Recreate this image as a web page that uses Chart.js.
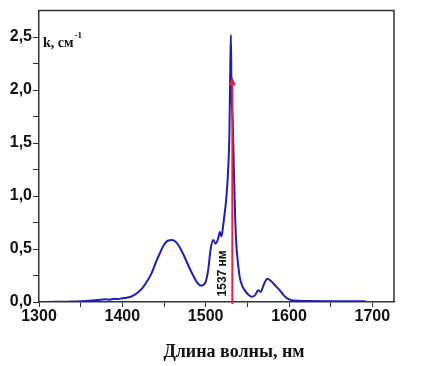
<!DOCTYPE html>
<html>
<head>
<meta charset="utf-8">
<script src="https://cdn.jsdelivr.net/npm/chart.js@4/dist/chart.umd.min.js"></script>
<style>
  html, body { margin: 0; padding: 0; background: #fff; }
  #wrap { width: 438px; height: 366px; }
</style>
</head>
<body>
<div id="wrap"><canvas id="chart" width="438" height="366"></canvas></div>
<script>
// wavelength (nm)
const wavelength = [1300, 1320, 1340, 1350, 1360, 1370, 1380, 1385, 1390, 1395, 1400, 1405, 1410, 1415,
    1420, 1425, 1430, 1435, 1440, 1445, 1450, 1455, 1460, 1465, 1470, 1475, 1480, 1485, 1490, 1494,
    1497, 1500, 1503, 1506, 1509, 1512, 1515, 1517, 1519, 1521, 1523, 1525, 1527, 1528.5, 1529.5,
    1530.3, 1531, 1532.5, 1534, 1535.5, 1537, 1539, 1541, 1544, 1547, 1551, 1555, 1559, 1563, 1566,
    1570, 1574, 1578, 1583, 1589, 1594, 1599, 1605, 1620, 1650, 1670, 1692];
// absorption coefficient k (cm^-1)
const kValues = [0.0, 0.002, 0.005, 0.008, 0.012, 0.018, 0.025, 0.022, 0.03, 0.028, 0.035, 0.04, 0.05, 0.07,
    0.1, 0.14, 0.2, 0.27, 0.37, 0.46, 0.54, 0.58, 0.585, 0.56, 0.5, 0.42, 0.33, 0.25, 0.18, 0.155,
    0.16, 0.19, 0.3, 0.5, 0.585, 0.55, 0.6, 0.66, 0.62, 0.72, 0.85, 1.0, 1.25, 1.6, 2.2,
    2.52, 2.0, 1.7, 1.2, 0.77, 0.52, 0.35, 0.23, 0.15, 0.11, 0.07, 0.05, 0.06, 0.11, 0.095,
    0.17, 0.22, 0.2, 0.16, 0.11, 0.06, 0.03, 0.015, 0.01, 0.008, 0.008, 0.006];

const xMajorTicks = [1300, 1400, 1500, 1600, 1700];
const yMajorTicks = [0, 0.5, 1.0, 1.5, 2.0, 2.5];

// red marker at the 1537 nm line
const markerX = [1532];
const markerTop = [2.12];
const markerLabel = '1537 нм';

const points = wavelength.map((w, i) => ({ x: w, y: kValues[i] }));

const overlay = {
    id: 'overlay',
    beforeDatasetsDraw(chart) {
        // frame on top and right
        const a = chart.chartArea, ctx = chart.ctx;
        ctx.save();
        ctx.strokeStyle = '#333';
        ctx.lineWidth = 1.5;
        ctx.beginPath();
        ctx.moveTo(a.left, a.top);
        ctx.lineTo(a.right, a.top);
        ctx.lineTo(a.right, a.bottom);
        ctx.stroke();
        ctx.restore();
    },
    afterDatasetsDraw(chart) {
        const ctx = chart.ctx;
        const xs = chart.scales.x, ys = chart.scales.y;
        const px = xs.getPixelForValue(markerX[0]);
        const y0 = ys.getPixelForValue(0);
        const y1 = ys.getPixelForValue(markerTop[0]);
        ctx.save();
        // arrow
        ctx.strokeStyle = '#e8203c';
        ctx.fillStyle = '#e8203c';
        ctx.lineWidth = 2;
        ctx.beginPath();
        ctx.moveTo(px, y0 + 2);
        ctx.lineTo(px, y1 + 4);
        ctx.stroke();
        ctx.beginPath();
        ctx.moveTo(px, y1);
        ctx.lineTo(px - 3.5, y1 + 8);
        ctx.lineTo(px + 3.5, y1 + 8);
        ctx.closePath();
        ctx.fill();
        // rotated label
        ctx.fillStyle = '#111';
        ctx.font = 'bold 12px "Liberation Sans", Arial, sans-serif';
        ctx.translate(px - 10, ys.getPixelForValue(0.27));
        ctx.rotate(-Math.PI / 2);
        ctx.textAlign = 'center';
        ctx.textBaseline = 'middle';
        ctx.fillText(markerLabel, 0, 0);
        ctx.restore();

        // y title inside the plot
        ctx.save();
        ctx.fillStyle = '#111';
        ctx.font = 'bold 14px "Liberation Serif", "Times New Roman", serif';
        ctx.textBaseline = 'alphabetic';
        ctx.fillText('k, см', 43, 47);
        const w = ctx.measureText('k, см').width;
        ctx.font = 'bold 9px "Liberation Serif", "Times New Roman", serif';
        ctx.fillText('-1', 43 + w + 1, 38);
        // x title
        ctx.font = 'bold 18px "Liberation Serif", "Times New Roman", serif';
        ctx.textAlign = 'center';
        ctx.fillText('Длина волны, нм', 234, 357);
        ctx.restore();
    }
};

const tickFont = { family: '"Liberation Sans", Arial, sans-serif', size: 16, weight: 'bold' };

new Chart(document.getElementById('chart'), {
    type: 'line',
    data: {
        datasets: [{
            data: points,
            borderColor: '#1e1eb8',
            borderWidth: 2,
            pointRadius: 0,
            cubicInterpolationMode: 'monotone',
            fill: false
        }]
    },
    options: {
        responsive: false,
        animation: false,
        events: [],
        layout: { padding: { top: 8, right: 44, left: 0, bottom: 0 } },
        plugins: { legend: { display: false }, tooltip: { enabled: false } },
        scales: {
            x: {
                type: 'linear',
                min: 1300,
                max: 1726,
                afterFit: s => { s.height = 64; },
                afterBuildTicks: s => {
                    const t = [];
                    for (let v = 1300; v <= 1700; v += 50) t.push({ value: v });
                    s.ticks = t;
                },
                ticks: {
                    autoSkip: false,
                    maxRotation: 0,
                    padding: 0,
                    color: '#111',
                    font: tickFont,
                    callback: v => xMajorTicks.includes(v) ? String(v) : ''
                },
                grid: { drawOnChartArea: false, tickLength: 5, color: '#333', tickWidth: 1 },
                border: { color: '#333', width: 1.5 }
            },
            y: {
                min: 0,
                max: 2.75,
                afterFit: s => { s.width = 39; },
                afterBuildTicks: s => {
                    const t = [];
                    for (let v = 0; v <= 2.5001; v += 0.25) t.push({ value: Math.round(v * 100) / 100 });
                    s.ticks = t;
                },
                ticks: {
                    autoSkip: false,
                    padding: 1,
                    color: '#111',
                    font: tickFont,
                    callback: v => yMajorTicks.includes(v) ? v.toFixed(1).replace('.', ',') : ''
                },
                grid: { drawOnChartArea: false, tickLength: 6, color: '#333', tickWidth: 1 },
                border: { color: '#333', width: 1.5 }
            }
        }
    },
    plugins: [overlay]
});
</script>
</body>
</html>
